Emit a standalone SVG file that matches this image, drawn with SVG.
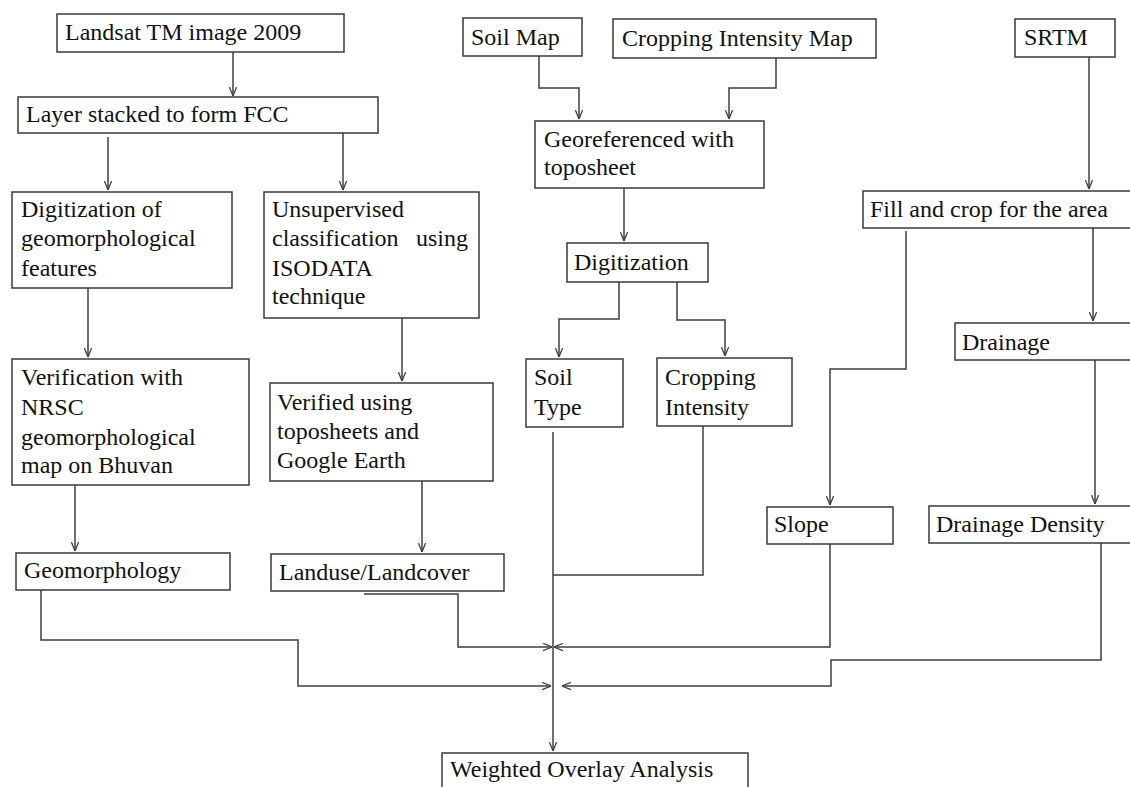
<svg xmlns="http://www.w3.org/2000/svg" width="1130" height="787" viewBox="0 0 1130 787">
<style>
  .box { fill: #ffffff; stroke: #3a3a3a; stroke-width: 1.5; }
  .t { font-family: "Liberation Serif", "Times New Roman", serif; font-size: 24px; fill: #111111; }
  .c { fill: none; stroke: #3f3f3f; stroke-width: 1.5; }
  .a { marker-end: url(#arr); }
</style>
<defs>
  <marker id="arr" viewBox="0 0 10 10" refX="10" refY="5" markerWidth="9" markerHeight="9" markerUnits="userSpaceOnUse" orient="auto">
    <path d="M0,1 L10,5 L0,9" fill="none" stroke="#3f3f3f" stroke-width="1.4"/>
  </marker>
</defs>
<rect width="1130" height="787" fill="#ffffff"/>

<g id="connectors">
  <path class="c a" d="M233,52 V96"/>
  <path class="c a" d="M108,137 V190"/>
  <path class="c a" d="M343,133 V190"/>
  <path class="c a" d="M88,288 V357"/>
  <path class="c a" d="M402,318 V381"/>
  <path class="c a" d="M75,485 V551"/>
  <path class="c a" d="M422,481 V552"/>
  <path class="c a" d="M539,56 V88 H579 V119"/>
  <path class="c a" d="M776,58 V88 H729 V119"/>
  <path class="c a" d="M624,188 V241"/>
  <path class="c a" d="M619,282 V319 H559 V357"/>
  <path class="c a" d="M677,282 V320 H725 V356"/>
  <path class="c a" d="M1089,57 V189"/>
  <path class="c a" d="M1093,228 V321"/>
  <path class="c a" d="M906,231 V369 H830 V505"/>
  <path class="c a" d="M1095,360 V504"/>
  <path class="c a" d="M553,432 V751"/>
  <path class="c" d="M703,426 V575 H553"/>
  <path class="c a" d="M364,594 H458 V647 H552"/>
  <path class="c a" d="M830,544 V647 H554"/>
  <path class="c a" d="M41,590 V640 H298 V686 H551"/>
  <path class="c a" d="M1101,543 V660 H831 V686 H562"/>
</g>

<g id="landsat"><rect class="box" x="57" y="14" width="287" height="38"/><text class="t" x="65" y="40">Landsat TM image 2009</text></g>
<g id="layer"><rect class="box" x="18" y="97" width="360" height="36"/><text class="t" x="26" y="122">Layer stacked to form FCC</text></g>
<g id="digit-geo"><rect class="box" x="12" y="192" width="220" height="96"/><text class="t"><tspan x="21" y="217">Digitization of</tspan><tspan x="21" y="246">geomorphological</tspan><tspan x="21" y="276">features</tspan></text></g>
<g id="unsupervised"><rect class="box" x="264" y="192" width="215" height="126"/><text class="t"><tspan x="272" y="217">Unsupervised</tspan><tspan x="272" y="246">classification</tspan><tspan x="416" y="246">using</tspan><tspan x="272" y="276">ISODATA</tspan><tspan x="272" y="304">technique</tspan></text></g>
<g id="verification"><rect class="box" x="12" y="359" width="237" height="126"/><text class="t"><tspan x="21" y="385">Verification with</tspan><tspan x="21" y="415">NRSC</tspan><tspan x="21" y="445">geomorphological</tspan><tspan x="21" y="473">map on Bhuvan</tspan></text></g>
<g id="verified"><rect class="box" x="270" y="383" width="223" height="98"/><text class="t"><tspan x="277" y="410">Verified using</tspan><tspan x="277" y="439">toposheets and</tspan><tspan x="277" y="468">Google Earth</tspan></text></g>
<g id="geomorphology"><rect class="box" x="16" y="553" width="214" height="37"/><text class="t" x="24" y="578">Geomorphology</text></g>
<g id="landuse"><rect class="box" x="271" y="554" width="233" height="37"/><text class="t" x="279" y="580">Landuse/Landcover</text></g>
<g id="soilmap"><rect class="box" x="463" y="18" width="119" height="38"/><text class="t" x="471" y="45">Soil Map</text></g>
<g id="cim"><rect class="box" x="613" y="19" width="263" height="39"/><text class="t" x="622" y="46">Cropping Intensity Map</text></g>
<g id="georef"><rect class="box" x="535" y="121" width="229" height="67"/><text class="t"><tspan x="544" y="147">Georeferenced with</tspan><tspan x="544" y="175">toposheet</tspan></text></g>
<g id="digitization"><rect class="box" x="567" y="243" width="141" height="39"/><text class="t" x="574" y="270">Digitization</text></g>
<g id="soiltype"><rect class="box" x="526" y="359" width="97" height="68"/><text class="t"><tspan x="534" y="385">Soil</tspan><tspan x="534" y="415">Type</tspan></text></g>
<g id="cropint"><rect class="box" x="657" y="358" width="135" height="68"/><text class="t"><tspan x="665" y="385">Cropping</tspan><tspan x="665" y="415">Intensity</tspan></text></g>
<g id="srtm"><rect class="box" x="1015" y="19" width="100" height="38"/><text class="t" x="1024" y="45">SRTM</text></g>
<g id="fill"><rect class="box" x="863" y="191" width="280" height="37"/><text class="t" x="870" y="217">Fill and crop for the area</text></g>
<g id="drainage"><rect class="box" x="955" y="323" width="190" height="37"/><text class="t" x="962" y="350">Drainage</text></g>
<g id="slope"><rect class="box" x="767" y="507" width="126" height="37"/><text class="t" x="774" y="532">Slope</text></g>
<g id="drainage-density"><rect class="box" x="929" y="506" width="210" height="37"/><text class="t" x="936" y="532">Drainage Density</text></g>
<g id="weighted"><rect class="box" x="442" y="753" width="306" height="40"/><text class="t" x="450" y="777">Weighted Overlay Analysis</text></g>
</svg>
